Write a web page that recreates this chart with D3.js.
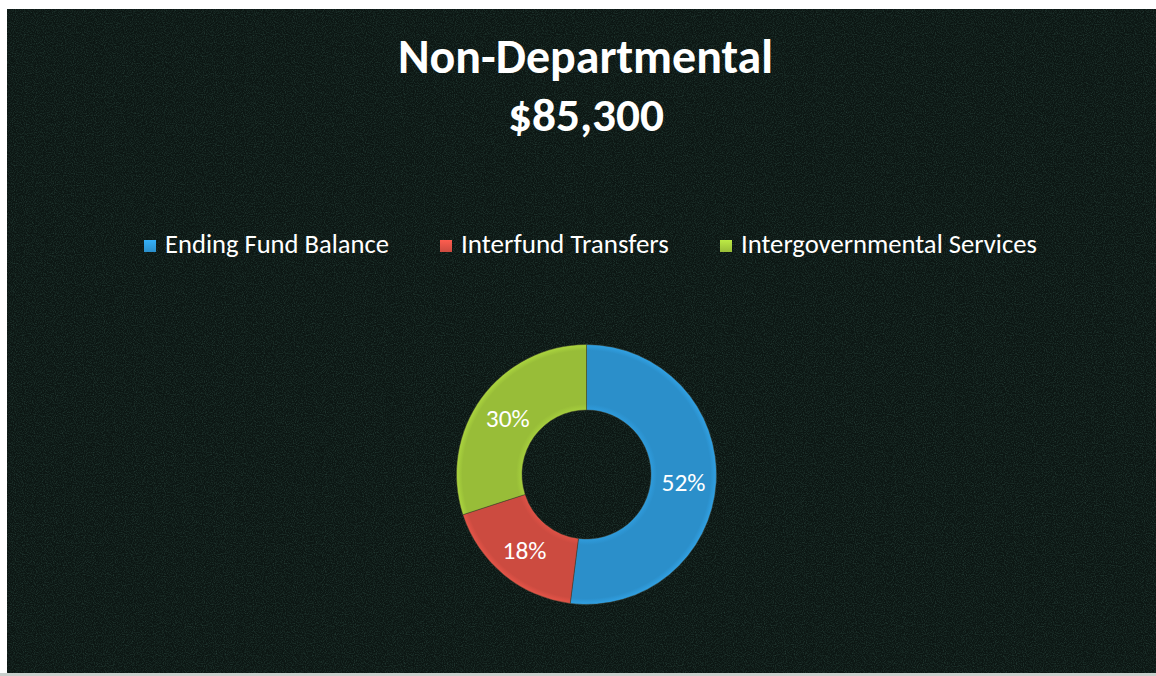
<!DOCTYPE html>
<html>
<head>
<meta charset="utf-8">
<script src="https://cdn.jsdelivr.net/npm/d3@7"></script>
<style>
  html, body { margin: 0; padding: 0; background: #ffffff; }
  svg { display: block; }
  text { font-family: Carlito, Lato, "Open Sans", sans-serif; }
</style>
</head>
<body>
<svg id="chart" width="1156" height="676"></svg>
<script>
// ---- data ----
const titleLines = ["Non-Departmental", "$85,300"];
const categories = ["Ending Fund Balance", "Interfund Transfers", "Intergovernmental Services"];
const values = [52, 18, 30];
const percentLabels = ["52%", "18%", "30%"];
const colors = ["#2b8fca", "#cc4b40", "#98bd38"];

const W = 1156, H = 676;
const svg = d3.select("#chart");
const defs = svg.append("defs");

// background noise texture
const f = defs.append("filter").attr("id", "noise").attr("x", 0).attr("y", 0).attr("width", "100%").attr("height", "100%");
f.append("feTurbulence").attr("type", "fractalNoise").attr("baseFrequency", 0.9).attr("numOctaves", 2).attr("seed", 3).attr("result", "t");
f.append("feColorMatrix").attr("in", "t").attr("type", "matrix")
  .attr("values", "0 0 0 0 0.08  0 0 0 0 0.22  0 0 0 0 0.17  0 0 0 1.1 -0.45");

// white scan margins top/left
svg.append("rect").attr("x", 0).attr("y", 0).attr("width", W).attr("height", H).attr("fill", "#ffffff");
svg.append("rect").attr("x", 7).attr("y", 9).attr("width", W - 7).attr("height", H - 12).attr("fill", "#0c1613");
svg.append("rect").attr("x", 7).attr("y", 9).attr("width", W - 7).attr("height", H - 12).attr("filter", "url(#noise)").attr("opacity", 0.6);
svg.append("rect").attr("x", 0).attr("y", H - 3).attr("width", W).attr("height", 3).attr("fill", "#c9cfcc");

// fit text to a target width
function fit(sel, target) {
  const w = sel.node().getComputedTextLength();
  const fs = parseFloat(sel.attr("font-size"));
  const nfs = fs * target / w;
  sel.attr("font-size", nfs.toFixed(2));
  return nfs;
}

// title
const t1 = svg.append("text").attr("x", 585.5).attr("y", 73).attr("text-anchor", "middle")
  .attr("font-size", 40).attr("font-weight", "bold").attr("fill", "#ffffff").text(titleLines[0]);
fit(t1, 375);
const t2 = svg.append("text").attr("x", 586).attr("y", 131).attr("text-anchor", "middle")
  .attr("font-size", 40).attr("font-weight", "bold").attr("fill", "#ffffff").text(titleLines[1]);
fit(t2, 156);

// legend
const legendX = [144, 440, 720];
const legendW = [224, 208, 296];
const lg = svg.append("g");
categories.forEach((c, i) => {
  const g = lg.append("g");
  const gradId = "lg" + i;
  const gr = defs.append("linearGradient").attr("id", gradId).attr("x1", 0).attr("y1", 0).attr("x2", 0).attr("y2", 1);
  gr.append("stop").attr("offset", 0).attr("stop-color", d3.color(colors[i]).brighter(0.6));
  gr.append("stop").attr("offset", 1).attr("stop-color", colors[i]);
  g.append("rect").attr("x", legendX[i]).attr("y", 240).attr("width", 12).attr("height", 12)
    .attr("fill", `url(#${gradId})`);
  const tx = g.append("text").attr("x", legendX[i] + 21).attr("y", 253)
    .attr("font-size", 22).attr("fill", "#ffffff").text(c);
  fit(tx, legendW[i]);
});

// donut
const cx = 586.5, cy = 474.5, rOuter = 130, rInner = 64.5;
const pie = d3.pie().sort(null).value(d => d)(values);
const arc = d3.arc().innerRadius(rInner).outerRadius(rOuter);
const g = svg.append("g").attr("transform", `translate(${cx},${cy})`);

pie.forEach((p, i) => {
  const rg = defs.append("radialGradient").attr("id", "rg" + i)
    .attr("gradientUnits", "userSpaceOnUse").attr("cx", 0).attr("cy", 0).attr("r", rOuter);
  const base = d3.color(colors[i]);
  rg.append("stop").attr("offset", rInner / rOuter).attr("stop-color", base.brighter(0.25));
  rg.append("stop").attr("offset", (rInner + 6) / rOuter).attr("stop-color", base);
  rg.append("stop").attr("offset", (rOuter - 6) / rOuter).attr("stop-color", base);
  rg.append("stop").attr("offset", 1).attr("stop-color", base.brighter(0.35));
});

g.selectAll("path.slice").data(pie).enter().append("path")
  .attr("class", "slice")
  .attr("d", arc)
  .attr("fill", (d, i) => `url(#rg${i})`)
  .attr("stroke", "#3a3a2a").attr("stroke-width", 0.8).attr("stroke-opacity", 0.6);

const labels = g.selectAll("text.pct").data(pie).enter().append("text")
  .attr("class", "pct")
  .attr("transform", d => { const c = arc.centroid(d); return `translate(${c[0]},${c[1] + 1})`; })
  .attr("text-anchor", "middle").attr("dy", "0.35em")
  .attr("font-size", 23).attr("fill", "#ffffff")
  .text((d, i) => percentLabels[i]);
const pfs = fit(d3.select(labels.nodes()[0]), 44);
labels.attr("font-size", pfs.toFixed(2));
</script>
</body>
</html>
